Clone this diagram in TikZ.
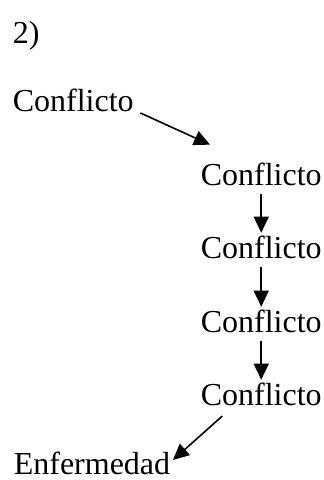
\documentclass[tikz,border=0pt]{standalone}
\usepackage{fontspec}
\setmainfont{Liberation Serif}
\usetikzlibrary{arrows.meta}
\begin{document}
\begin{tikzpicture}[x=1pt,y=1pt,
  line width=1.6pt,word node/.style={inner sep=0pt,anchor=base west,font=\fontsize{32}{38}\selectfont}]
  \useasboundingbox (0,0) rectangle (324,-480);

  \node[word node] (n) at (12,-43) {2)};
  \node[word node] (0) at (12,-111) {Conflicto};
  \node[word node] (1) at (200,-185) {Conflicto};
  \node[word node] (2) at (200,-258) {Conflicto};
  \node[word node] (3) at (200,-332) {Conflicto};
  \node[word node] (4) at (200,-405) {Conflicto};
  \node[word node] (5) at (13,-474) {Enfermedad};

  \path[-{Triangle[length=16pt,width=15pt]}]
   ([shift={(6,-2)}]0.base east) edge ([shift={(10,17)}]1.north west)
   ([yshift=-8]1.south) edge ([yshift=2]2.north)
   ([yshift=-8]2.south) edge ([yshift=2]3.north)
   ([yshift=-8]3.south) edge ([yshift=2]4.north)
   ([shift={(-39,-10)}]4.south) edge ([shift={(2,14)}]5.base east);
\end{tikzpicture}
\end{document}
